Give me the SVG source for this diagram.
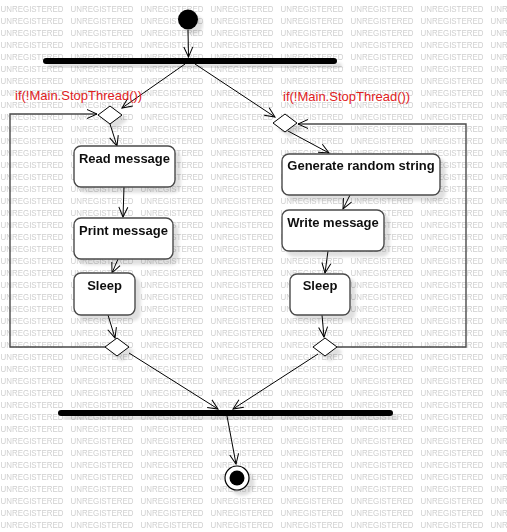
<svg xmlns="http://www.w3.org/2000/svg" width="507" height="532" viewBox="0 0 507 532">
  <defs>
    <style>
      .wm { font-family: "Liberation Sans", Arial, sans-serif; font-size: 8.7px; fill: #cfcfcf; }
      .box { fill: #ffffff; stroke: #4a4a4a; stroke-width: 1.4; }
      .dia { fill: #ffffff; stroke: #000000; stroke-width: 1; }
      .bar { fill: #000000; }
      .lbl { font-family: "Liberation Sans", Arial, sans-serif; font-size: 13px; font-weight: bold; fill: #111111; text-anchor: middle; }
      .guard { font-family: "Liberation Sans", Arial, sans-serif; font-size: 13px; fill: #e0211d; }
      .flow { fill: none; stroke: #000000; stroke-width: 1; marker-end: url(#open); }
      .loop { fill: none; stroke: #4a4a4a; stroke-width: 1.4; marker-end: url(#open); }
    </style>
    <pattern id="wmTile" width="70" height="12" patternUnits="userSpaceOnUse">
      <text class="wm" x="0.5" y="11.8" textLength="63" lengthAdjust="spacingAndGlyphs">UNREGISTERED</text>
    </pattern>
    <filter id="shadow" x="-20%" y="-20%" width="150%" height="180%">
      <feDropShadow dx="5" dy="5" stdDeviation="1.6" flood-color="#000000" flood-opacity="0.12"/>
    </filter>
    <marker id="open" viewBox="-11 -6 13 12" markerWidth="13" markerHeight="12" refX="0" refY="0" orient="auto" markerUnits="userSpaceOnUse">
      <path d="M-10,-4.5 L0,0 L-10,4.5" fill="none" stroke="#000000" stroke-width="1"/>
    </marker>
  </defs>

  <!-- background -->
  <rect width="507" height="532" fill="#ffffff"/>
  <rect width="507" height="532" fill="url(#wmTile)"/>

  <!-- connectors -->
  <g id="connectors">
    <path class="flow" d="M188,30 L188.5,57"/>
    <path class="flow" d="M185,64 L122,108"/>
    <path class="flow" d="M195,64 L275,117"/>
    <path class="loop" d="M105,347 H10 V114 H97"/>
    <path class="flow" d="M110,124 L117,146"/>
    <path class="flow" d="M124,187 L123,217"/>
    <path class="flow" d="M118,259 L112,273"/>
    <path class="flow" d="M108,315 L115,338"/>
    <path class="flow" d="M129,353 L218,409"/>
    <path class="loop" d="M337,347 H466 V124 H298"/>
    <path class="flow" d="M288,131 L329,153"/>
    <path class="flow" d="M350,195 L343,209"/>
    <path class="flow" d="M328,251 L325,273"/>
    <path class="flow" d="M322,315 L324,337"/>
    <path class="flow" d="M318,354 L233,409"/>
    <path class="flow" d="M227,416 L236,464"/>
  </g>

  <!-- start -->
  <g id="start" filter="url(#shadow)">
    <circle cx="188" cy="19.5" r="10" fill="#000000"/>
  </g>

  <!-- fork -->
  <g id="fork" filter="url(#shadow)">
    <rect class="bar" x="43" y="58" width="294" height="6" rx="3"/>
  </g>

  <!-- reader loop -->
  <g id="readerGuard">
    <path class="dia" filter="url(#shadow)" d="M110,106 L122,115 L110,124 L98,115 Z"/>
    <text class="guard" x="15" y="100">if(!Main.StopThread())</text>
  </g>
  <g id="readMessage" filter="url(#shadow)">
    <rect class="box" x="74" y="146" width="101" height="41" rx="7"/>
    <text class="lbl" x="124.5" y="163">Read message</text>
  </g>
  <g id="printMessage" filter="url(#shadow)">
    <rect class="box" x="74" y="218" width="99" height="41" rx="7"/>
    <text class="lbl" x="123.5" y="235">Print message</text>
  </g>
  <g id="sleepReader" filter="url(#shadow)">
    <rect class="box" x="74" y="273" width="61" height="42" rx="7"/>
    <text class="lbl" x="104.5" y="290">Sleep</text>
  </g>
  <g id="readerMerge" filter="url(#shadow)">
    <path class="dia" d="M117,338 L129,347 L117,356 L105,347 Z"/>
  </g>

  <!-- writer loop -->
  <g id="writerGuard">
    <path class="dia" filter="url(#shadow)" d="M285,114 L297,123 L285,132 L273,123 Z"/>
    <text class="guard" x="283" y="101">if(!Main.StopThread())</text>
  </g>
  <g id="generateString" filter="url(#shadow)">
    <rect class="box" x="282" y="154" width="158" height="41" rx="7"/>
    <text class="lbl" x="361" y="170">Generate random string</text>
  </g>
  <g id="writeMessage" filter="url(#shadow)">
    <rect class="box" x="282" y="210" width="102" height="41" rx="7"/>
    <text class="lbl" x="333" y="227">Write message</text>
  </g>
  <g id="sleepWriter" filter="url(#shadow)">
    <rect class="box" x="290" y="274" width="60" height="41" rx="7"/>
    <text class="lbl" x="320" y="290">Sleep</text>
  </g>
  <g id="writerMerge" filter="url(#shadow)">
    <path class="dia" d="M325,338 L337,347 L325,356 L313,347 Z"/>
  </g>

  <!-- join -->
  <g id="join" filter="url(#shadow)">
    <rect class="bar" x="58" y="410" width="335" height="6" rx="3"/>
  </g>

  <!-- final -->
  <g id="final" filter="url(#shadow)">
    <circle cx="237" cy="478" r="12" fill="#ffffff" stroke="#000000" stroke-width="1.2"/>
    <circle cx="237" cy="478" r="7.5" fill="#000000"/>
  </g>
</svg>
